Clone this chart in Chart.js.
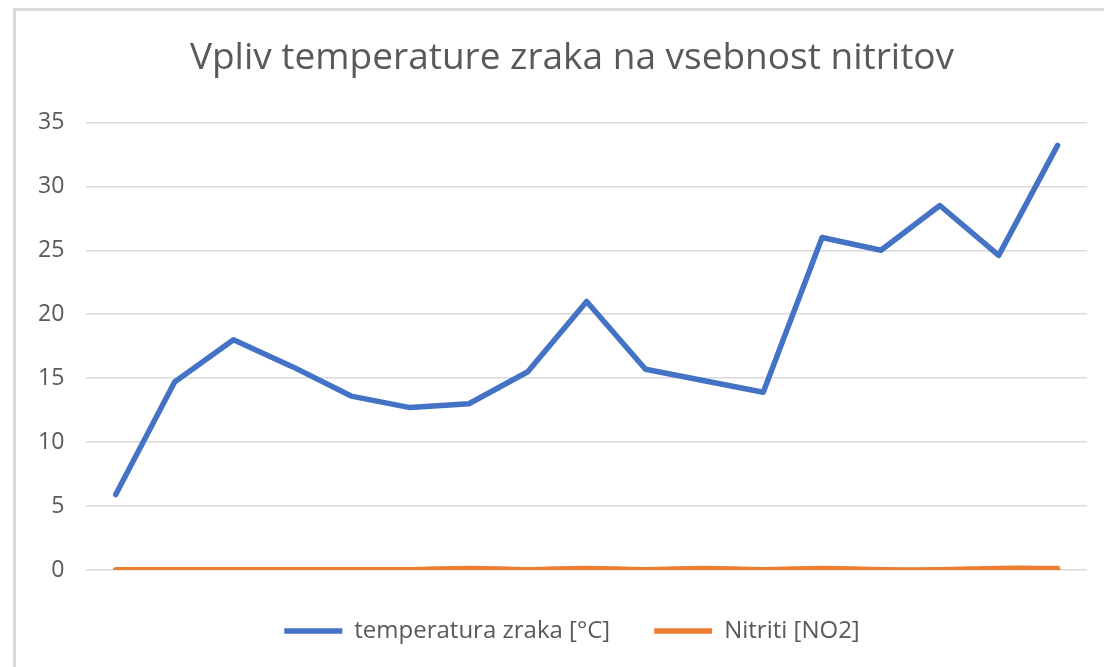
<!DOCTYPE html>
<html>
<head>
<meta charset="utf-8">
<script src="https://cdn.jsdelivr.net/npm/chart.js@4/dist/chart.umd.min.js"></script>
<style>
    html, body { margin: 0; padding: 0; background: #fff; overflow: hidden; }
    #frame {
        position: absolute; left: 13px; top: 8px;
        border-left: 3px solid #d9d9d9; border-top: 3px solid #d9d9d9;
        width: 1112px; height: 656px;
    }
</style>
</head>
<body>
<div id="frame"><canvas id="chartline" width="1112" height="656"></canvas></div>
<script>
// 17 meritev, brez oznak na x osi
var labels = ['1', '2', '3', '4', '5', '6', '7', '8', '9', '10', '11', '12', '13', '14', '15', '16', '17'];
var temperatura = [5.9, 14.7, 18.0, 15.9, 13.6, 12.7, 13.0, 15.5, 21.0, 15.7, 14.8, 13.9, 26.0, 25.0, 28.5, 24.6, 33.2];
var nitriti = [0.02, 0.02, 0.02, 0.02, 0.02, 0.02, 0.12, 0.02, 0.12, 0.02, 0.12, 0.02, 0.12, 0.02, 0.02, 0.12, 0.12];
var yMin = 0;
var yMax = 35;
var yStep = 5;

var chartline;

window.onload = function () {
    var chartArea = document.getElementById('chartline').getContext('2d');

    chartline = new Chart(chartArea, {
        type: 'line',
        data: {
            labels: labels,
            datasets: [{
                label: 'temperatura zraka [°C]',
                data: temperatura,
                borderColor: '#4472C4',
                backgroundColor: '#4472C4',
                borderWidth: 5.5,
                borderCapStyle: 'round',
                borderJoinStyle: 'round',
                pointRadius: 0,
                tension: 0
            }, {
                label: 'Nitriti [NO2]',
                data: nitriti,
                borderColor: '#ED7D31',
                backgroundColor: '#ED7D31',
                borderWidth: 5.5,
                borderCapStyle: 'round',
                borderJoinStyle: 'round',
                pointRadius: 0,
                tension: 0.4
            }]
        },
        options: {
            responsive: false,
            animation: false,
            layout: {
                padding: { left: 0, right: 0, top: 0, bottom: 14 }
            },
            scales: {
                x: {
                    offset: true,
                    ticks: { display: false },
                    grid: { display: false },
                    border: { display: false },
                    afterFit: function (scale) { scale.height = 5; }
                },
                y: {
                    min: yMin,
                    max: yMax,
                    ticks: {
                        stepSize: yStep,
                        padding: 22,
                        color: '#595959',
                        font: { family: 'Open Sans', size: 23 }
                    },
                    grid: {
                        color: '#d9d9d9',
                        lineWidth: 1.5,
                        drawTicks: false
                    },
                    border: { display: false }
                },
                // leer prostor desno od grafa
                y2: {
                    position: 'right',
                    ticks: { display: false },
                    grid: { display: false },
                    border: { display: false },
                    afterFit: function (scale) { scale.width = 41; }
                }
            },
            plugins: {
                title: {
                    display: true,
                    text: 'Vpliv temperature zraka na vsebnost nitritov',
                    color: '#595959',
                    font: { family: 'Open Sans', size: 37, weight: 'normal' },
                    padding: { top: 25, bottom: 42 }
                },
                legend: {
                    position: 'bottom',
                    labels: {
                        usePointStyle: true,
                        pointStyle: 'line',
                        pointStyleWidth: 58,
                        boxHeight: 24,
                        padding: 44,
                        color: '#595959',
                        font: { family: 'Open Sans', size: 24 }
                    }
                },
                tooltip: { enabled: false }
            }
        }
    });
};
</script>
</body>
</html>
